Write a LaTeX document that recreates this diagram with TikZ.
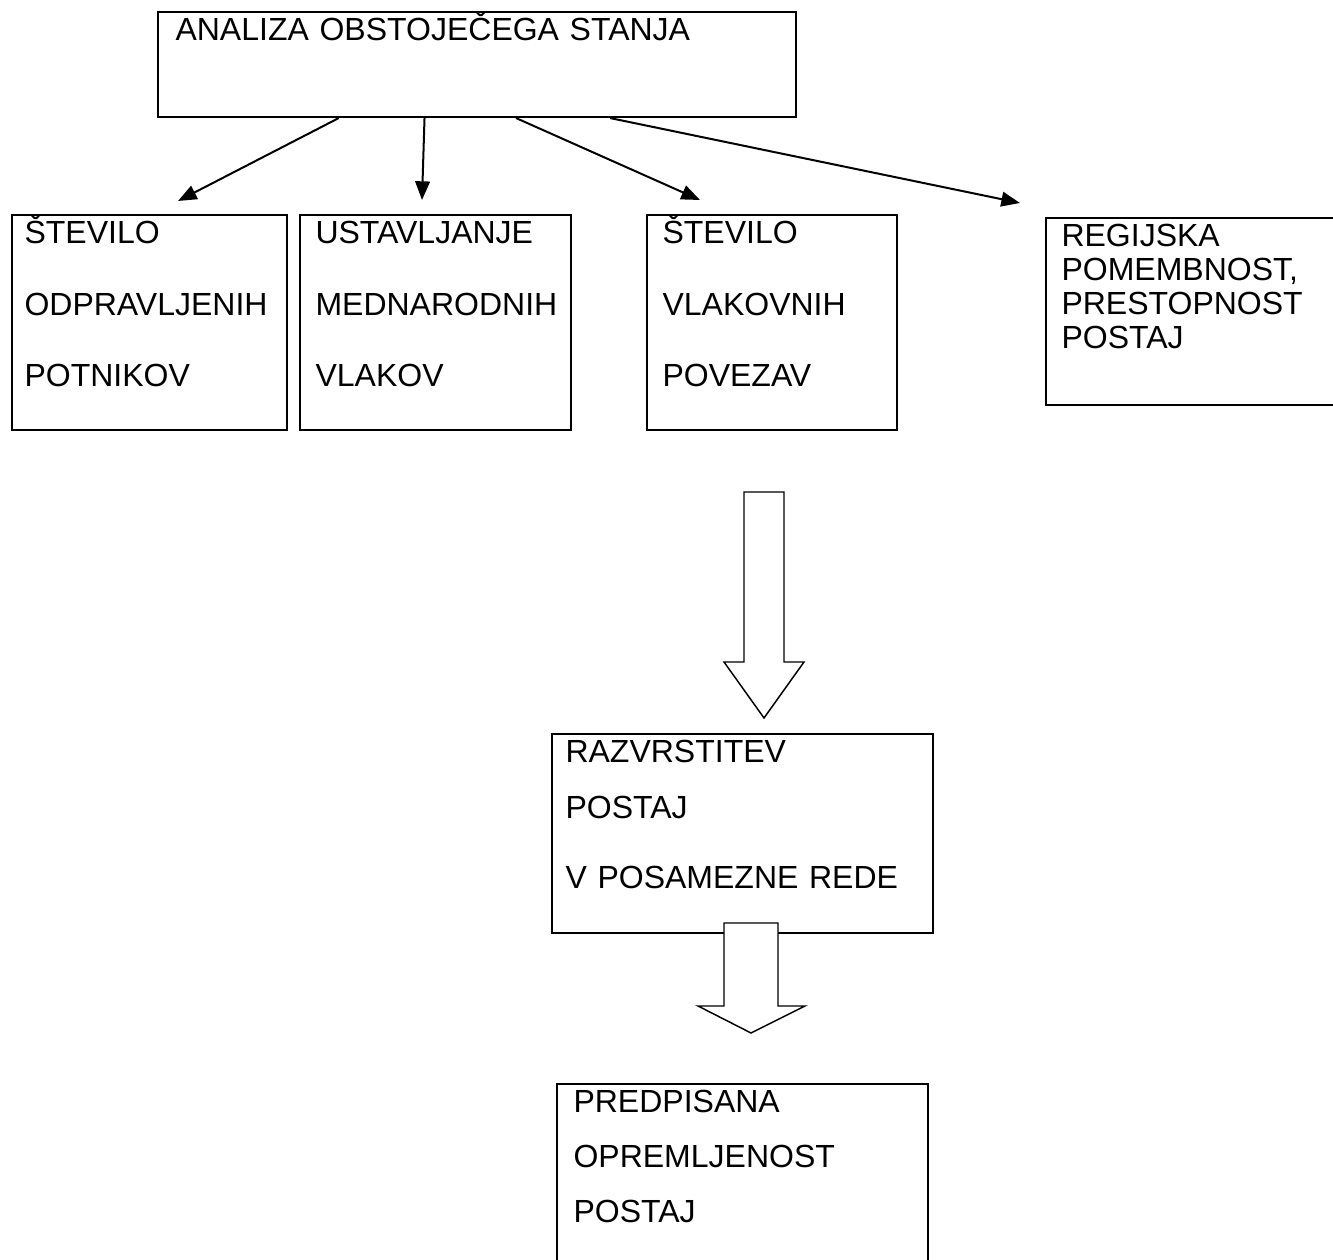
\documentclass[tikz,border=0pt]{standalone}
\usepackage{fontspec}
\setmainfont{Liberation Sans}
\usetikzlibrary{arrows.meta,calc}

\tikzset{
    box/.style={draw, line width=0.75pt, inner sep=0pt, anchor=north west},
    txt/.style={inner sep=0pt, anchor=base west, align=left, text width=130pt},
    link/.style={line width=0.75pt, -{Triangle[length=7pt,width=5.5pt]}},
    hollow/.style={draw, fill=white, line width=0.55pt, line join=miter}
}

\begin{document}
\begin{tikzpicture}[x=0.375pt, y=-0.375pt]
    \useasboundingbox (0, 0) rectangle (1333, 1260);

    \node[box, minimum width=239.25pt, minimum height=39.4pt] (analiza) at (157, 11) {};
    \node[txt, text width=230pt, font=\fontsize{12pt}{14pt}\selectfont] (analizaT) at (175, 41) {ANALIZA OBSTOJEČEGA STANJA};

    \node[box, minimum width=103.1pt, minimum height=80.6pt] (potniki) at (11, 214) {};
    \node[txt, font=\fontsize{12pt}{26.8pt}\selectfont] (potnikiT) at (24, 244)
	{ŠTEVILO\\ODPRAVLJENIH\\POTNIKOV};

    \node[box, minimum width=101.6pt, minimum height=80.6pt] (ustavljanje) at (299, 214) {};
    \node[txt, font=\fontsize{12pt}{26.8pt}\selectfont] (ustavljanjeT) at (315, 244)
	{USTAVLJANJE\\MEDNARODNIH\\VLAKOV};

    \node[box, minimum width=93.75pt, minimum height=80.6pt] (povezave) at (646, 214) {};
    \node[txt, font=\fontsize{12pt}{26.8pt}\selectfont] (povezaveT) at (662, 244)
	{ŠTEVILO\\VLAKOVNIH\\POVEZAV};

    \node[box, minimum width=112.5pt, minimum height=70.1pt] (regija) at (1045, 217) {};
    \node[txt, font=\fontsize{12pt}{12.7pt}\selectfont] (regijaT) at (1061, 247)
	{REGIJSKA\\POMEMBNOST,\\PRESTOPNOST\\POSTAJ};

    \node[box, minimum width=142.9pt, minimum height=74.6pt] (razvrstitev) at (551, 733) {};
    \node[txt, font=\fontsize{12pt}{21pt}\selectfont] (razvrstitevT) at (565, 763)
	{RAZVRSTITEV\\POSTAJ\\[4.9pt]V POSAMEZNE REDE};

    \node[box, minimum width=139.1pt, minimum height=72pt] (oprema) at (556, 1083) {};
    \node[txt, font=\fontsize{12pt}{20.6pt}\selectfont] (opremaT) at (573, 1113)
	{PREDPISANA\\OPREMLJENOST\\POSTAJ};

    \coordinate (k1) at (178, 201);
    \coordinate (k2) at (422, 200);
    \coordinate (k3) at (700, 200);
    \coordinate (k4) at (1020, 203);

    \draw[link] ($(analiza.south west)!0.284!(analiza.south east)$) -- (k1);
    \draw[link] ($(analiza.south west)!0.418!(analiza.south east)$) -- (k2);
    \draw[link] ($(analiza.south west)!0.561!(analiza.south east)$) -- (k3);
    \draw[link] ($(analiza.south west)!0.708!(analiza.south east)$) -- (k4);

    \draw[hollow] (744, 492) -- (784, 492) -- (784, 662) -- (804, 662)
	-- (764, 718) -- (724, 662) -- (744, 662) -- cycle;

    \draw[hollow] (724, 923) -- (778, 923) -- (778, 1006) -- (805, 1006)
	-- (751, 1033) -- (698, 1006) -- (724, 1006) -- cycle;
\end{tikzpicture}
\end{document}
